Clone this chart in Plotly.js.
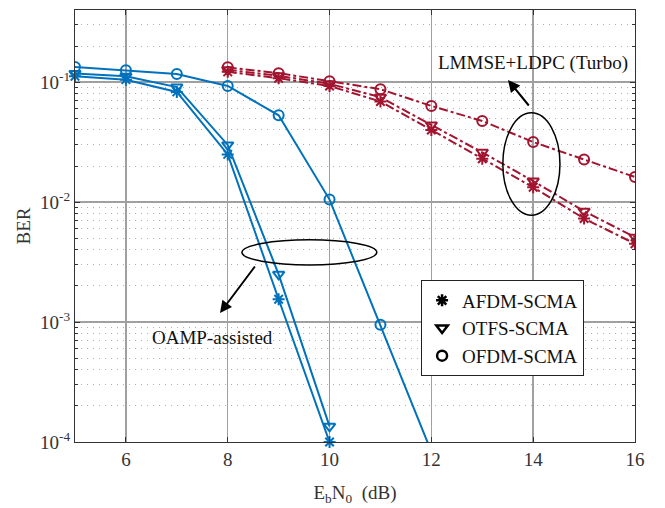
<!DOCTYPE html>
<html><head><meta charset="utf-8">
<script src="https://cdn.plot.ly/plotly-3.0.1.min.js"></script>
<style>body{margin:0;background:#fff}#c{width:665px;height:508px}</style>
</head><body><div id="c"></div>
<script>
const snrOamp = [5,6,7,8,9,10,11,12];
const oampAfdm = [0.112,0.105,0.083,0.025,0.00155,0.0001];
const oampOtfs = [0.118,0.112,0.091,0.030,0.0025,0.000135];
const oampOfdm = [0.134,0.126,0.117,0.093,0.053,0.0105,0.00095,0.000083];
const snrTurbo = [8,9,10,11,12,13,14,15,16];
const turboAfdm = [0.122,0.108,0.093,0.069,0.040,0.023,0.0133,0.0073,0.0045];
const turboOtfs = [0.127,0.113,0.097,0.075,0.044,0.026,0.015,0.0084,0.0051];
const turboOfdm = [0.133,0.119,0.102,0.0874,0.0634,0.0475,0.0317,0.0227,0.0162];
const legendNames = ['AFDM-SCMA','OTFS-SCMA','OFDM-SCMA'];
const yTickVals = [1e-4,1e-3,1e-2,1e-1];
const yTickText = ['10<sup>-4</sup>','10<sup>-3</sup>','10<sup>-2</sup>','10<sup>-1</sup>'];

const blue = '#0072BD', red = '#A2142F';
const symbols = ['asterisk-open','triangle-down-open','circle-open'];
function tr(x, y, color, sym, dash, clip){
  return {x:x, y:y, mode:'lines+markers', showlegend:false, cliponaxis:clip,
    line:{color:color, width:2, dash:dash},
    marker:{symbol:sym, size:10, color:color, line:{color:color, width:2}}};
}
const data = [
  tr(snrOamp.slice(0,oampAfdm.length), oampAfdm, blue, symbols[0], 'solid', false),
  tr(snrOamp.slice(0,oampOtfs.length), oampOtfs, blue, symbols[1], 'solid', false),
  tr(snrOamp, oampOfdm, blue, symbols[2], 'solid', true),
  tr(snrTurbo, turboAfdm, red, symbols[0], 'dashdot', true),
  tr(snrTurbo, turboOtfs, red, symbols[1], 'dashdot', true),
  tr(snrTurbo, turboOfdm, red, symbols[2], 'dashdot', true),
];
legendNames.forEach((n,i)=>{
  data.push({x:[5], y:[1e-10], mode:'markers', name:n, showlegend:true, cliponaxis:true,
    marker:{symbol:symbols[i], size:10, color:'#000', line:{color:'#000', width:2.5}}});
});

const FF = 'Liberation Serif';
const font = {family:FF, size:19, color:'#222'};
const layout = {
  width:665, height:508, margin:{l:75, r:30, t:10, b:66},
  paper_bgcolor:'#fff', plot_bgcolor:'#fff', font:font, showlegend:true,
  xaxis:{range:[5,16], dtick:2, tick0:6, showline:true, linecolor:'#333', linewidth:1, mirror:'ticks',
    ticks:'inside', ticklen:5, tickcolor:'#333', showgrid:true, gridcolor:'#a0a0a0', gridwidth:1.5, zeroline:false,
    title:{text:'E<sub>b</sub>N<sub>0</sub>  (dB)', font:{family:FF, size:19, color:'#333'}, standoff:16},
    tickfont:{family:FF, size:19, color:'#333'}},
  yaxis:{type:'log', range:[-4, Math.log10(0.4)], tickvals:yTickVals, ticktext:yTickText,
    showline:true, linecolor:'#333', linewidth:1, mirror:'ticks', ticks:'inside', ticklen:5, tickcolor:'#333',
    showgrid:true, gridcolor:'#a0a0a0', gridwidth:1.5, zeroline:false,
    minor:{dtick:'D1', ticks:'inside', ticklen:3, tickcolor:'#333', showgrid:true, gridcolor:'#b0b0b0', griddash:'1px,5px', gridwidth:1},
    title:{text:'BER', font:{family:FF, size:19, color:'#333'}, standoff:4},
    tickfont:{family:FF, size:19, color:'#333'}},
  legend:{x:0.618, y:0.374, xanchor:'left', yanchor:'top', bgcolor:'#fff', bordercolor:'#222', borderwidth:1,
    font:{family:FF, size:19, color:'#111'}, tracegroupgap:0, itemwidth:30},
  shapes:[
    {type:'circle', xref:'paper', yref:'paper', x0:0.764, x1:0.866, y0:0.525, y1:0.762, line:{color:'#000', width:1.5}},
    {type:'circle', xref:'paper', yref:'paper', x0:0.298, x1:0.539, y0:0.410, y1:0.468, line:{color:'#000', width:1.5}}
  ],
  annotations:[
    {xref:'paper', yref:'paper', x:0.818, y:0.877, xanchor:'center', yanchor:'middle', text:'LMMSE+LDPC (Turbo)', showarrow:false, font:{family:FF, size:19, color:'#111'}},
    {xref:'paper', yref:'paper', x:0.246, y:0.243, xanchor:'center', yanchor:'middle', text:'OAMP-assisted', showarrow:false, font:{family:FF, size:19, color:'#111'}},
    {xref:'paper', yref:'paper', x:(508-75)/560, y:(442-80)/432, ax:22, ay:27, text:'', showarrow:true, arrowhead:2, arrowsize:1.2, arrowwidth:2, arrowcolor:'#000'},
    {xref:'paper', yref:'paper', x:(220-75)/560, y:(442-313)/432, ax:36, ay:-48, text:'', showarrow:true, arrowhead:2, arrowsize:1.2, arrowwidth:2, arrowcolor:'#000'}
  ]
};
Plotly.newPlot('c', data, layout, {displayModeBar:false, staticPlot:true});
</script></body></html>
